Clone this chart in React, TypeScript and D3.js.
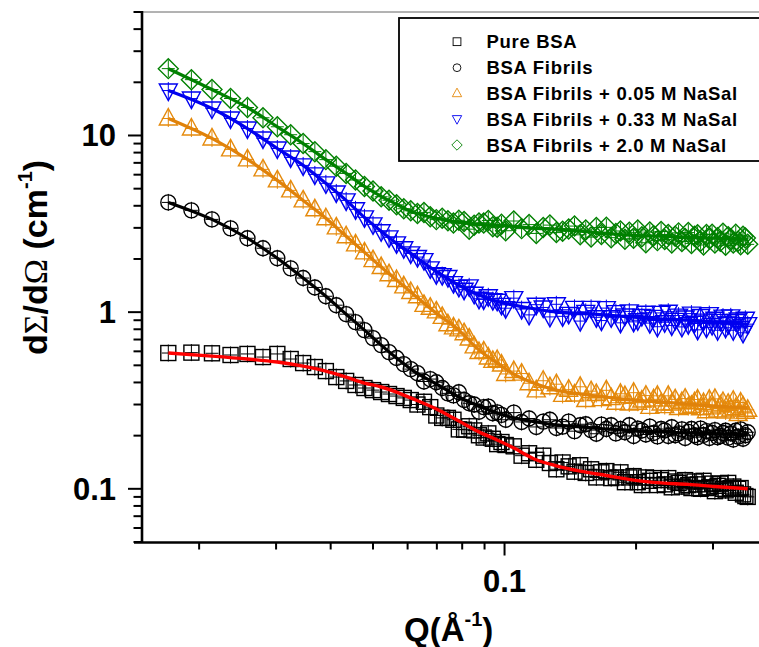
import React from 'react';
import * as d3 from 'd3';

// Q values (Å^-1), shared by all series
const qValues = [0.0170, 0.0192, 0.0214, 0.0236, 0.0258, 0.0280, 0.0302, 0.0324, 0.0346, 0.0368, 0.0390, 0.0412, 0.0434, 0.0456, 0.0478, 0.0500, 0.0522, 0.0544, 0.0566, 0.0588, 0.0610,
  0.0632, 0.0654, 0.0676, 0.0698, 0.0720, 0.0742, 0.0764, 0.0786, 0.0808, 0.0830, 0.0852, 0.0874, 0.0896, 0.0918, 0.0940, 0.0962, 0.0984, 0.1006,
  0.1050, 0.1094, 0.1138, 0.1182, 0.1226, 0.1270, 0.1314, 0.1358, 0.1402, 0.1446, 0.1490, 0.1534, 0.1578, 0.1622, 0.1666, 0.1710, 0.1754, 0.1798, 0.1842, 0.1886, 0.1930, 0.1974, 0.2018, 0.2062, 0.2106, 0.2150, 0.2194, 0.2238, 0.2282, 0.2326, 0.2370, 0.2414, 0.2458, 0.2502, 0.2546, 0.2590, 0.2634, 0.2678, 0.2722, 0.2766, 0.2810, 0.2854, 0.2898, 0.2942, 0.2986, 0.3030, 0.3074, 0.3118, 0.3162, 0.3206, 0.3250, 0.3294, 0.3338, 0.3382, 0.3426, 0.3470, 0.3514, 0.3558, 0.3602];

const pureBSA = [0.587, 0.590, 0.585, 0.572, 0.580, 0.557, 0.580, 0.543, 0.515, 0.489, 0.464, 0.429, 0.408, 0.387, 0.372, 0.362, 0.353, 0.344, 0.335, 0.327, 0.318,
  0.300, 0.311, 0.290, 0.260, 0.252, 0.252, 0.246, 0.217, 0.216, 0.226, 0.214, 0.201, 0.195, 0.206, 0.192, 0.179, 0.184, 0.177,
  0.174, 0.154, 0.159, 0.146, 0.154, 0.140, 0.129, 0.141, 0.134, 0.125, 0.136, 0.123, 0.129, 0.116, 0.124, 0.126, 0.115, 0.116, 0.124, 0.109, 0.116, 0.118, 0.109, 0.105, 0.116, 0.111, 0.115, 0.105, 0.112, 0.106, 0.115, 0.102, 0.110, 0.108, 0.103, 0.112, 0.105, 0.101, 0.110, 0.106, 0.100, 0.111, 0.101, 0.102, 0.107, 0.097, 0.104, 0.107, 0.100, 0.098, 0.108, 0.101, 0.103, 0.095, 0.100, 0.101, 0.093, 0.091, 0.090];

const bsaFibrils = [4.18, 3.77, 3.35, 2.98, 2.62, 2.30, 2.02, 1.77, 1.56, 1.38, 1.23, 1.095, 0.974, 0.878, 0.791, 0.713, 0.651, 0.594, 0.550, 0.508, 0.476,
  0.452, 0.405, 0.418, 0.401, 0.372, 0.347, 0.338, 0.352, 0.318, 0.305, 0.300, 0.273, 0.290, 0.292, 0.268, 0.271, 0.262, 0.246,
  0.270, 0.239, 0.250, 0.224, 0.240, 0.246, 0.221, 0.225, 0.240, 0.212, 0.229, 0.232, 0.215, 0.205, 0.231, 0.218, 0.229, 0.206, 0.218, 0.209, 0.229, 0.199, 0.219, 0.214, 0.203, 0.225, 0.207, 0.198, 0.218, 0.214, 0.199, 0.223, 0.201, 0.206, 0.217, 0.194, 0.210, 0.218, 0.201, 0.196, 0.219, 0.202, 0.212, 0.194, 0.207, 0.215, 0.196, 0.199, 0.207, 0.213, 0.195, 0.206, 0.190, 0.213, 0.197, 0.217, 0.192, 0.201, 0.209];

const nasal005 = [12.48, 10.95, 9.62, 8.34, 7.32, 6.43, 5.57, 4.89, 4.29, 3.82, 3.40, 3.02, 2.69, 2.42, 2.18, 1.97, 1.80, 1.64, 1.52, 1.40, 1.30,
  1.23, 1.10, 1.06, 1.01, 0.94, 0.854, 0.82, 0.799, 0.76, 0.710, 0.64, 0.595, 0.60, 0.554, 0.53, 0.536, 0.505, 0.447,
  0.464, 0.449, 0.396, 0.361, 0.409, 0.376, 0.391, 0.340, 0.364, 0.342, 0.378, 0.318, 0.357, 0.344, 0.322, 0.361, 0.326, 0.307, 0.345, 0.335, 0.304, 0.350, 0.307, 0.316, 0.337, 0.291, 0.321, 0.336, 0.304, 0.294, 0.336, 0.304, 0.321, 0.287, 0.310, 0.324, 0.290, 0.295, 0.309, 0.320, 0.286, 0.306, 0.275, 0.319, 0.289, 0.323, 0.278, 0.296, 0.310, 0.274, 0.303, 0.281, 0.315, 0.286, 0.265, 0.308, 0.293, 0.273, 0.280];

const nasal033 = [17.96, 16.18, 14.21, 12.48, 10.95, 9.62, 8.44, 7.51, 6.77, 6.02, 5.36, 4.76, 4.29, 3.82, 3.44, 3.14, 2.87, 2.65, 2.45, 2.30, 2.15,
  2.05, 1.97, 1.77, 1.64, 1.62, 1.58, 1.46, 1.39, 1.34, 1.40, 1.27, 1.19, 1.18, 1.23, 1.17, 1.16, 1.10, 1.053,
  1.20, 1.041, 0.965, 1.102, 1.063, 0.940, 1.108, 0.947, 0.978, 1.058, 0.890, 1.004, 1.057, 0.935, 0.896, 1.054, 0.935, 1.000, 0.870, 0.957, 1.010, 0.881, 0.900, 0.952, 0.993, 0.867, 0.940, 0.827, 0.990, 0.877, 1.006, 0.841, 0.904, 0.956, 0.825, 0.932, 0.855, 0.981, 0.871, 0.794, 0.952, 0.896, 0.818, 0.975, 0.846, 0.918, 0.790, 0.893, 0.943, 0.816, 0.856, 0.947, 0.790, 0.891, 0.909, 0.816, 0.764, 0.917, 0.855];

const nasal20 = [23.9, 20.7, 18.2, 16.2, 14.4, 12.6, 11.2, 10.1, 9.0, 8.1, 7.3, 6.7, 6.1, 5.6, 5.15, 4.85, 4.5, 4.3, 4.05, 3.85, 3.75,
  3.62, 3.67, 3.47, 3.34, 3.40, 3.29, 3.20, 3.31, 3.26, 2.95, 3.10, 3.20, 3.20, 3.30, 3.04, 3.02, 3.14, 2.89,
  3.28, 2.97, 3.13, 2.79, 3.01, 3.11, 2.82, 2.87, 2.96, 3.07, 2.74, 2.92, 2.66, 3.01, 2.75, 3.02, 2.64, 2.79, 2.88, 2.59, 2.83, 2.62, 2.92, 2.67, 2.47, 2.84, 2.71, 2.54, 2.86, 2.58, 2.75, 2.46, 2.69, 2.81, 2.51, 2.61, 2.82, 2.45, 2.69, 2.74, 2.52, 2.40, 2.75, 2.60, 2.76, 2.46, 2.64, 2.52, 2.80, 2.39, 2.67, 2.60, 2.46, 2.76, 2.52, 2.41, 2.69, 2.63, 2.42];

// Model fit curves
const fitQ = [0.0170, 0.0214, 0.0258, 0.0302, 0.0346, 0.0390, 0.0434, 0.0478, 0.0522, 0.0566, 0.0610, 0.0698, 0.0786, 0.0874, 0.0962, 0.1050, 0.1182, 0.1314, 0.1490, 0.1710, 0.1974, 0.2282, 0.2634, 0.3030, 0.3602];
const fitPure = [0.587, 0.564, 0.543, 0.522, 0.495, 0.464, 0.429, 0.397, 0.377, 0.353, 0.327, 0.283, 0.242, 0.210, 0.189, 0.170, 0.146, 0.135, 0.126, 0.119, 0.112, 0.108, 0.106, 0.103, 0.100];
const fitFibrils = [4.18, 3.35, 2.62, 2.02, 1.56, 1.23, 0.974, 0.791, 0.651, 0.550, 0.476, 0.392, 0.331, 0.294, 0.269, 0.252, 0.239, 0.230, 0.224, 0.218, 0.213, 0.210, 0.207, 0.205, 0.202];
const fit005 = [12.48, 9.62, 7.32, 5.57, 4.29, 3.40, 2.69, 2.18, 1.80, 1.52, 1.30, 0.987, 0.791, 0.610, 0.515, 0.446, 0.392, 0.362, 0.344, 0.331, 0.318, 0.310, 0.302, 0.294, 0.287];
const fit033 = [17.96, 14.21, 10.95, 8.44, 6.77, 5.36, 4.29, 3.44, 2.87, 2.45, 2.15, 1.70, 1.42, 1.25, 1.15, 1.095, 1.04, 1.0, 0.987, 0.962, 0.937, 0.913, 0.901, 0.878, 0.855];
const fit20 = [23.9, 18.2, 14.4, 11.2, 9.0, 7.3, 6.1, 5.15, 4.52, 4.08, 3.72, 3.40, 3.22, 3.14, 3.10, 3.06, 2.98, 2.95, 2.87, 2.79, 2.72, 2.69, 2.65, 2.62, 2.58];

const seriesNames = ['Pure BSA', 'BSA Fibrils', 'BSA Fibrils + 0.05 M NaSal', 'BSA Fibrils + 0.33 M NaSal', 'BSA Fibrils + 2.0 M NaSal'];
const yTickLabels = [0.1, 1, 10];
const xTickLabels = [0.1];

const SANS = "'Liberation Sans', Arial, sans-serif";
const SERIF = "'Liberation Serif', 'DejaVu Serif', serif";

type Shape = 'square' | 'circle' | 'up' | 'down' | 'diamond';

function Marker({ shape, cx, cy, color, s = 1, sw = 1.4, cross = true }: { shape: Shape; cx: number; cy: number; color: string; s?: number; sw?: number; cross?: boolean }) {
  let el: React.ReactNode = null;
  if (shape === 'square') el = <rect x={cx - 7.5 * s} y={cy - 7.5 * s} width={15 * s} height={15 * s} />;
  else if (shape === 'circle') el = <circle cx={cx} cy={cy} r={7.5 * s} />;
  else if (shape === 'up') el = <polygon points={`${cx},${cy - 10 * s} ${cx + 9 * s},${cy + 6.5 * s} ${cx - 9 * s},${cy + 6.5 * s}`} />;
  else if (shape === 'down') el = <polygon points={`${cx},${cy + 10 * s} ${cx + 9 * s},${cy - 6.5 * s} ${cx - 9 * s},${cy - 6.5 * s}`} />;
  else el = <polygon points={`${cx},${cy - 10 * s} ${cx + 10 * s},${cy} ${cx},${cy + 10 * s} ${cx - 10 * s},${cy}`} />;
  return (
    <g fill="none" stroke={color} strokeWidth={sw}>
      {el}
      {cross && <path d={`M${cx - 6.5},${cy}H${cx + 6.5}M${cx},${cy - 8.5}V${cy + 8.5}`} strokeWidth={1} />}
    </g>
  );
}

export default function App() {
  const W = 759, H = 647;
  const x = d3.scaleLog().domain([0.0148, 0.4]).range([142, 767.6]);
  const y = d3.scaleLog().domain([0.05, 50]).range([542, 12]);

  const series = [
    { name: seriesNames[0], data: pureBSA, fit: fitPure, color: '#000000', lineColor: '#ff0000', shape: 'square' as Shape, lw: 3.4 },
    { name: seriesNames[1], data: bsaFibrils, fit: fitFibrils, color: '#000000', lineColor: '#000000', shape: 'circle' as Shape, lw: 3.2 },
    { name: seriesNames[2], data: nasal005, fit: fit005, color: '#e58a0c', lineColor: '#e0820a', shape: 'up' as Shape, lw: 3.2 },
    { name: seriesNames[3], data: nasal033, fit: fit033, color: '#0000f0', lineColor: '#0000ee', shape: 'down' as Shape, lw: 3.2 },
    { name: seriesNames[4], data: nasal20, fit: fit20, color: '#008000', lineColor: '#008000', shape: 'diamond' as Shape, lw: 3.2 },
  ];

  const line = d3.line<[number, number]>()
    .x(d => x(d[0]))
    .y(d => y(d[1]))
    .curve(d3.curveMonotoneX);

  const yTicks = y.ticks();
  const xTicks = x.ticks();
  const isMajor = (v: number) => Math.abs(Math.log10(v) - Math.round(Math.log10(v))) < 1e-6;

  const legendX = 399, legendY = 18;
  const rowY = [41.7, 67.7, 93.3, 119, 145];

  return (
    <svg width={W} height={H} style={{ position: 'absolute', left: 0, top: 0, background: '#fff' }} fontFamily={SANS}>
      <rect x={0} y={0} width={W} height={H} fill="#fff" />
      {/* data */}
      {series.map((s, si) => (
        <g key={si}>
          {s.data.map((v, i) => (
            <Marker key={i} shape={s.shape} cx={x(qValues[i])} cy={y(v)} color={s.color} />
          ))}
          <path d={line(fitQ.map((q, i) => [q, s.fit[i]]) as [number, number][]) || ''} fill="none" stroke={s.lineColor} strokeWidth={s.lw} />
        </g>
      ))}
      {/* top frame */}
      <line x1={142} x2={W} y1={12} y2={12} stroke="#666" strokeWidth={1} />
      {/* y axis */}
      <line x1={142} x2={142} y1={11} y2={543} stroke="#000" strokeWidth={2.6} />
      {yTicks.map((v, i) => (
        <line key={i} x1={isMajor(v) ? 128 : 133.5} x2={142} y1={y(v)} y2={y(v)} stroke="#000" strokeWidth={2} />
      ))}
      {yTickLabels.map((v, i) => (
        <text key={i} x={116} y={y(v) + 11} textAnchor="end" fontSize={31} fontWeight="bold">{String(v)}</text>
      ))}
      {/* x axis */}
      <line x1={134} x2={W} y1={542.5} y2={542.5} stroke="#000" strokeWidth={2.6} />
      {xTicks.map((v, i) => (
        <line key={i} x1={x(v)} x2={x(v)} y1={542} y2={isMajor(v) ? 555.5 : 549.5} stroke="#000" strokeWidth={2} />
      ))}
      {xTickLabels.map((v, i) => (
        <text key={i} x={x(v)} y={592} textAnchor="middle" fontSize={31} fontWeight="bold">{String(v)}</text>
      ))}
      {/* axis titles */}
      <text x={404} y={641} fontSize={33} fontWeight="bold">
        Q(Å<tspan fontSize={20} dy={-15}>-1</tspan><tspan dy={15}>)</tspan>
      </text>
      <text transform="translate(47,355) rotate(-90)" fontSize={34} fontWeight="bold">
        d<tspan fontFamily={SERIF} fontWeight="normal">Σ</tspan>/d<tspan fontFamily={SERIF} fontWeight="normal">Ω</tspan> (cm<tspan fontSize={20} dy={-15}>-1</tspan><tspan dy={15}>)</tspan>
      </text>
      {/* legend */}
      <rect x={legendX} y={legendY} width={420} height={143} fill="#fff" stroke="#000" strokeWidth={1.8} />
      {series.map((s, i) => (
        <g key={i}>
          <Marker shape={s.shape} cx={457} cy={rowY[i]} color={s.color} s={0.52} sw={0.9} cross={false} />
          <text x={486.5} y={rowY[i] + 6.7} fontSize={18.5} fontWeight="bold" letterSpacing={0.7}>{s.name}</text>
        </g>
      ))}
    </svg>
  );
}
